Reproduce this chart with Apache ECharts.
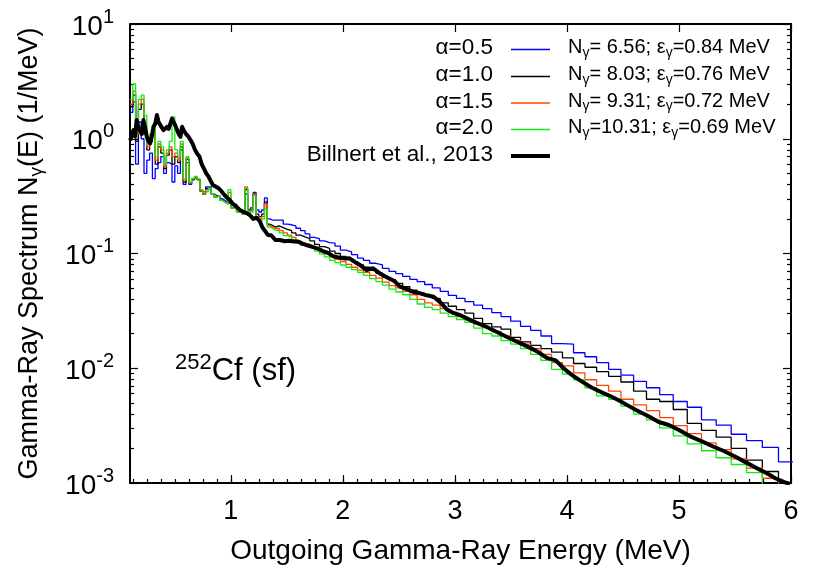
<!DOCTYPE html>
<html><head><meta charset="utf-8">
<script src="https://cdn.jsdelivr.net/npm/echarts@6/dist/echarts.min.js"></script>
<style>html,body{margin:0;padding:0;background:#fff}#c{width:819px;height:571px}</style>
</head><body><div id="c"></div>
<script>
// ---- data ----
const lowEdges = [0.1,0.125,0.15,0.175,0.2,0.225,0.25,0.275,0.3,0.325,0.35,0.375,0.4,0.425,0.45,0.475,0.5,0.525,0.55,0.575,0.6,0.625,0.65,0.675,0.7,0.725,0.75,0.775,0.8,0.825,0.85,0.875,0.9,0.925,0.95,0.975,1.0,1.025,1.05,1.075,1.1,1.125,1.15,1.175,1.2,1.225,1.25,1.275,1.3,1.325,1.35,1.375];
const highEdges = [1.398,1.432,1.468,1.505,1.543,1.581,1.622,1.663,1.705,1.747,1.791,1.836,1.882,1.930,1.978,2.028,2.078,2.131,2.184,2.239,2.295,2.353,2.412,2.472,2.534,2.598,2.663,2.730,2.798,2.869,2.941,3.014,3.090,3.168,3.247,3.329,3.412,3.498,3.586,3.676,3.768,3.863,3.960,4.059,4.161,4.265,4.372,4.482,4.595,4.710,4.828,4.949,5.074,5.201,5.332,5.466,5.603,5.744,5.888,6.036];

const alpha05Low = [1.7,2.1,0.6,1.4,1.0,0.5,0.65,0.75,0.45,0.55,0.62,0.7,0.5,0.62,0.6,0.42,0.58,0.5,0.8,0.4,0.62,0.4,0.44,0.46,0.44,0.35,0.34,0.38,0.38,0.33,0.32,0.32,0.3,0.29,0.28,0.27,0.26,0.27,0.25,0.24,0.23,0.33,0.24,0.25,0.34,0.24,0.23,0.24,0.305,0.2,0.195,0.195];
const alpha05High = [0.195,0.195,0.180,0.178,0.174,0.166,0.158,0.148,0.138,0.135,0.129,0.1245,0.123,0.116,0.107,0.1035,0.0977,0.0912,0.0871,0.0822,0.0794,0.0741,0.070,0.0668,0.0631,0.0596,0.0569,0.0537,0.0501,0.0468,0.0432,0.0407,0.0380,0.0355,0.0331,0.0305,0.0282,0.0257,0.0232,0.0214,0.0191,0.0164,0.0162,0.01365,0.0126,0.0112,0.00977,0.00871,0.00767,0.00676,0.00589,0.00513,0.00457,0.00355,0.0032,0.00266,0.00234,0.00204,0.00153];

const alpha10Low = [1.9,2.4,0.95,1.8,2.0,1.1,0.8,0.95,1.1,0.6,0.85,0.75,0.55,0.72,0.8,0.6,0.7,0.62,0.85,0.42,0.66,0.41,0.44,0.46,0.44,0.35,0.33,0.37,0.37,0.33,0.31,0.32,0.29,0.28,0.27,0.3,0.25,0.26,0.24,0.23,0.23,0.36,0.23,0.24,0.33,0.22,0.21,0.22,0.28,0.18,0.175,0.17];
const alpha10High = [0.174,0.168,0.162,0.158,0.151,0.1445,0.1396,0.135,0.129,0.120,0.115,0.111,0.105,0.100,0.0944,0.0891,0.0851,0.0794,0.0759,0.0716,0.0676,0.0624,0.0589,0.0550,0.0513,0.0479,0.0452,0.0427,0.0407,0.0372,0.0347,0.0324,0.0302,0.0272,0.0245,0.0229,0.0219,0.0186,0.0170,0.0158,0.0148,0.0138,0.0123,0.0110,0.0102,0.00933,0.00851,0.00759,0.00631,0.00537,0.00513,0.00437,0.00331,0.00288,0.00251,0.00200,0.00158,0.00126,0.0007];

const alpha15Low = [2.0,2.6,1.1,2.0,2.2,1.3,0.85,1.0,1.2,0.65,0.9,0.8,0.57,0.75,0.85,0.7,0.75,0.65,0.9,0.43,0.68,0.41,0.45,0.46,0.44,0.35,0.33,0.36,0.37,0.33,0.31,0.32,0.29,0.28,0.27,0.34,0.25,0.25,0.23,0.23,0.22,0.38,0.23,0.24,0.33,0.21,0.2,0.21,0.27,0.175,0.17,0.165];
const alpha15High = [0.166,0.158,0.151,0.1445,0.138,0.129,0.123,0.120,0.115,0.110,0.1035,0.100,0.0933,0.0891,0.0851,0.0804,0.0759,0.0716,0.0684,0.0646,0.0610,0.0562,0.0525,0.0501,0.0468,0.0437,0.0398,0.0372,0.0355,0.0331,0.0309,0.0282,0.0266,0.0245,0.0226,0.0209,0.0191,0.0176,0.0162,0.0148,0.0132,0.0112,0.0105,0.00912,0.00794,0.00708,0.00631,0.00537,0.00479,0.00427,0.00372,0.00316,0.00269,0.00224,0.00195,0.00162,0.00135,0.00110,0.0007];

const alpha20Low = [2.2,3.0,1.3,2.2,2.4,1.6,0.9,1.1,1.3,0.7,0.95,0.85,0.6,0.8,0.95,1.55,0.8,0.7,0.95,0.45,0.7,0.42,0.45,0.47,0.45,0.36,0.34,0.35,0.37,0.33,0.31,0.32,0.29,0.28,0.27,0.36,0.25,0.25,0.23,0.23,0.22,0.37,0.23,0.23,0.32,0.2,0.19,0.2,0.245,0.17,0.165,0.16];
const alpha20High = [0.158,0.151,0.143,0.138,0.132,0.123,0.1175,0.1135,0.110,0.105,0.0989,0.0933,0.0871,0.0832,0.0794,0.0759,0.0724,0.0684,0.0646,0.0603,0.0569,0.0531,0.0490,0.0462,0.0437,0.0398,0.0363,0.0339,0.0324,0.0302,0.0282,0.0266,0.0251,0.0224,0.0200,0.0191,0.0174,0.0162,0.0148,0.0132,0.0117,0.00977,0.00891,0.00794,0.00676,0.00575,0.00537,0.00468,0.00398,0.00355,0.00302,0.00257,0.00219,0.00191,0.00166,0.00145,0.00123,0.0007,0.0006];

const billnertE = [0.10,0.115,0.13,0.145,0.16,0.175,0.19,0.205,0.22,0.235,0.25,0.265,0.28,0.295,0.31,0.325,0.34,0.355,0.37,0.385,0.40,0.415,0.43,0.445,0.46,0.475,0.49,0.505,0.52,0.535,0.55,0.565,0.58,0.60,0.62,0.64,0.66,0.68,0.70,0.72,0.74,0.76,0.78,0.80,0.82,0.84,0.86,0.89,0.91,0.93,0.96,0.99,1.02,1.05,1.08,1.11,1.14,1.17,1.20,1.23,1.26,1.28,1.30,1.33,1.36,1.40,1.44,1.48,1.52,1.56,1.60,1.64,1.68,1.72,1.77,1.82,1.87,1.92,1.97,2.02,2.06,2.11,2.16,2.21,2.27,2.33,2.40,2.46,2.51,2.57,2.63,2.69,2.75,2.81,2.87,2.93,2.99,3.05,3.12,3.19,3.28,3.37,3.46,3.55,3.64,3.73,3.82,3.90,3.97,4.04,4.12,4.22,4.32,4.39,4.47,4.55,4.62,4.72,4.82,4.91,5.00,5.10,5.20,5.31,5.40,5.50,5.61,5.70,5.78,5.86,5.94,5.99];
const billnertN = [0.97,1.05,1.19,1.05,1.46,1.25,1.27,1.1,1.46,1.25,1.04,0.95,0.91,1.05,1.27,1.35,1.61,1.4,1.32,1.25,1.19,1.22,1.27,1.22,1.19,1.5,1.45,1.3,1.2,1.1,1.04,1.27,1.18,1.1,1.05,0.975,0.9,0.8,0.74,0.70,0.60,0.55,0.50,0.47,0.43,0.395,0.385,0.37,0.355,0.335,0.31,0.292,0.27,0.256,0.24,0.231,0.225,0.216,0.2,0.205,0.19,0.17,0.16,0.145,0.144,0.131,0.131,0.128,0.129,0.127,0.127,0.122,0.118,0.115,0.111,0.105,0.101,0.094,0.092,0.0905,0.0908,0.084,0.0785,0.0718,0.0743,0.067,0.0615,0.0575,0.0514,0.0489,0.0462,0.045,0.0432,0.042,0.0375,0.0325,0.0302,0.029,0.0268,0.025,0.023,0.0208,0.0188,0.0171,0.0156,0.0141,0.0123,0.0117,0.0100,0.0088,0.0078,0.0068,0.0061,0.0057,0.0052,0.0047,0.0043,0.00385,0.0034,0.0032,0.0029,0.00255,0.00232,0.00207,0.0019,0.0017,0.00149,0.00134,0.00122,0.0011,0.00102,0.00098];

const xTickLabels = [1,2,3,4,5,6];
const legendLabels = ['\u03b1=0.5','\u03b1=1.0','\u03b1=1.5','\u03b1=2.0','Billnert et al., 2013'];
const legendNgamma = [' 6.56',' 8.03',' 9.31','10.31'];
const legendEgamma = ['0.84','0.76','0.72','0.69'];

// ---- build ----
const edges = lowEdges.concat(highEdges);
function hist(vals){
  const d = [];
  for (let i = 0; i < vals.length; i++) d.push([edges[i], vals[i]]);
  d.push([edges[vals.length], vals[vals.length-1]]);
  return d;
}
const FONT = 'Liberation Sans, Arial, Helvetica, sans-serif';
const colors = ['#0000ff', '#000000', '#ff4500', '#10ee10'];
const xMinor = []; for (let k = 1; k <= 47; k++) xMinor.push(k*0.125);
const yMinorLog = []; for (let d = -3; d < 1; d++) for (let m = 2; m <= 9; m++) yMinorLog.push(d + Math.log10(m));

const G = {left:130, right:28, top:24, bottom:88};
const chart = echarts.init(document.getElementById('c'), null, {renderer:'canvas'});

const histSeries = [alpha05Low.concat(alpha05High), alpha10Low.concat(alpha10High), alpha15Low.concat(alpha15High), alpha20Low.concat(alpha20High)].map((v, i) => ({
  type:'line', name: legendLabels[i], xAxisIndex:0, yAxisIndex:0, step:'end', symbol:'none',
  lineStyle:{color:colors[i], width:1.3}, data: hist(v), z: 2 + i, animation:false
}));
const billSeries = {
  type:'line', name: legendLabels[4], xAxisIndex:0, yAxisIndex:0, symbol:'none',
  lineStyle:{color:'#000', width:4, join:'round'}, data: billnertE.map((e,i)=>[e, billnertN[i]]), z: 10, animation:false
};

const legendGraphics = [];
const rowY = [49.5, 76.5, 103, 129.5, 156];
for (let i = 0; i < 5; i++) {
  legendGraphics.push({type:'text', right: 819-493, top: rowY[i]-13, style:{text: legendLabels[i], font:'22.5px '+FONT, fill:'#000', textAlign:'right'}});
  legendGraphics.push({type:'line', shape:{x1:511, y1:rowY[i], x2:550, y2:rowY[i]}, style:{stroke: i<4 ? colors[i] : '#000', lineWidth: i<4 ? 1.5 : 4}});
  if (i < 4) {
    legendGraphics.push({type:'text', left:568, top: rowY[i]-12, style:{
      text:'{n|N}{s|\u03b3}{n|=' + legendNgamma[i] + '; \u03b5}{s|\u03b3}{n|=' + legendEgamma[i] + ' MeV}',
      rich:{n:{font:'20px '+FONT, fill:'#000'}, s:{font:'14px '+FONT, fill:'#000', padding:[11,0,0,0]}}
    }});
  }
}
legendGraphics.push({type:'text', left:175, top:352, style:{
  text:'{s|252}{n|Cf (sf)}',
  rich:{n:{font:'31px '+FONT, fill:'#000'}, s:{font:'22px '+FONT, fill:'#000', padding:[0,0,16,0]}}
}});

const tickStyle = {color:'#000', width:1.2};
const option = {
  animation:false,
  backgroundColor:'#fff',
  textStyle:{fontFamily:FONT},
  grid:[Object.assign({}, G), Object.assign({}, G)],
  xAxis:[
    {gridIndex:0, type:'value', position:'bottom', min:0.1, max:6,
     name:'Outgoing Gamma-Ray Energy (MeV)', nameLocation:'middle', nameGap:54,
     nameTextStyle:{fontSize:28, color:'#000', fontFamily:FONT},
     axisLine:{show:true, onZero:false, lineStyle:{color:'#000', width:2}},
     axisTick:{show:true, inside:true, length:8, customValues:xTickLabels, lineStyle:tickStyle},
     axisLabel:{show:true, customValues:xTickLabels, fontSize:27, color:'#000', margin:15, fontFamily:FONT},
     splitLine:{show:false}},
    {gridIndex:0, type:'value', position:'top', min:0.1, max:6,
     axisLine:{show:true, onZero:false, lineStyle:{color:'#000', width:2}},
     axisTick:{show:true, inside:true, length:8, customValues:xTickLabels, lineStyle:tickStyle},
     axisLabel:{show:false}, splitLine:{show:false}},
    {gridIndex:1, type:'value', position:'bottom', min:0.1, max:6,
     axisLine:{show:false, onZero:false},
     axisTick:{show:true, inside:true, length:4, customValues:xMinor, lineStyle:tickStyle},
     axisLabel:{show:false}, splitLine:{show:false}}
  ],
  yAxis:[
    {gridIndex:0, type:'log', logBase:10, position:'left', min:0.001, max:10,
     name:'{n|Gamma-Ray Spectrum N}{s|\u03b3}{n|(E) (1/MeV)}', nameLocation:'middle', nameGap:84, nameRotate:90,
     nameTextStyle:{color:'#000', rich:{n:{fontSize:27, fontFamily:FONT, color:'#000'}, s:{fontSize:19, fontFamily:FONT, color:'#000', padding:[14,0,0,0]}}},
     axisLine:{show:true, onZero:false, lineStyle:{color:'#000', width:2}},
     axisTick:{show:true, inside:true, length:8, lineStyle:tickStyle},
     axisLabel:{show:true, margin:16, formatter:function(v){ return '{b|10}{s|' + Math.round(Math.log10(v)) + '}'; },
       rich:{b:{fontSize:28, fontFamily:FONT, color:'#000', padding:[6,0,0,0]}, s:{fontSize:20, fontFamily:FONT, color:'#000', padding:[0,0,14,0]}}},
     splitLine:{show:false}, minorTick:{show:false}},
    {gridIndex:0, type:'log', logBase:10, position:'right', min:0.001, max:10,
     axisLine:{show:true, onZero:false, lineStyle:{color:'#000', width:2}},
     axisTick:{show:true, inside:true, length:8, lineStyle:tickStyle},
     axisLabel:{show:false}, splitLine:{show:false}},
    {gridIndex:1, type:'value', position:'left', min:-3, max:1,
     axisLine:{show:false, onZero:false},
     axisTick:{show:true, inside:true, length:4, customValues:yMinorLog, lineStyle:tickStyle},
     axisLabel:{show:false}, splitLine:{show:false}},
    {gridIndex:1, type:'value', position:'right', min:-3, max:1,
     axisLine:{show:false, onZero:false},
     axisTick:{show:true, inside:true, length:4, customValues:yMinorLog, lineStyle:tickStyle},
     axisLabel:{show:false}, splitLine:{show:false}}
  ],
  series: histSeries.concat([billSeries]),
  graphic: legendGraphics
};
chart.setOption(option);
</script>
</body></html>
